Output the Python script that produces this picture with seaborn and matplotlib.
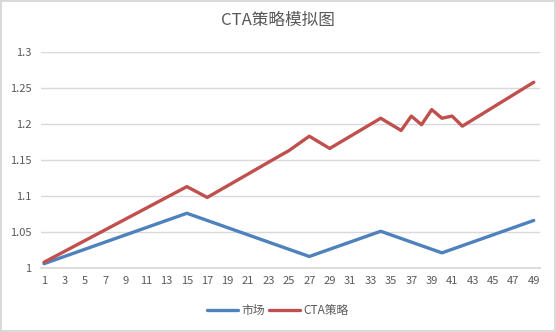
import matplotlib
matplotlib.use("Agg")
import matplotlib.pyplot as plt
import seaborn as sns
import pandas as pd

# Data (breakpoints of the piecewise-straight lines)
market_x = [1, 15, 27, 34, 40, 49]
market_y = [1.006, 1.076, 1.016, 1.051, 1.021, 1.066]

cta_x = [1, 15, 17, 24, 25, 27, 29, 34, 36, 37, 38, 39, 40, 41, 42, 49]
cta_y = [1.008, 1.113, 1.098, 1.155, 1.163, 1.183, 1.166, 1.208, 1.191, 1.211, 1.199, 1.220, 1.208, 1.211, 1.197, 1.258]

x_ticks = list(range(1, 50, 2))
y_ticks = [1, 1.05, 1.1, 1.15, 1.2, 1.25, 1.3]
y_tick_labels = ["1", "1.05", "1.1", "1.15", "1.2", "1.25", "1.3"]
title = "CTA策略模拟图"
series_names = ["市场", "CTA策略"]

sns.set_theme(style="white")
plt.rcParams['font.family'] = ['Noto Sans CJK SC', 'DejaVu Sans']

df = pd.concat([
    pd.DataFrame({"x": market_x, "y": market_y, "s": series_names[0]}),
    pd.DataFrame({"x": cta_x, "y": cta_y, "s": series_names[1]}),
])

fig = plt.figure(figsize=(5.56, 3.32), dpi=100)
fig.patch.set_edgecolor("#D9D9D9")
fig.patch.set_linewidth(1.5)
ax = fig.add_axes([0.0737, 0.1928, 0.8973, 0.6506])

sns.lineplot(data=df, x="x", y="y", hue="s", ax=ax, sort=False,
             palette={series_names[0]: "#4F81BD", series_names[1]: "#C0504D"},
             linewidth=2.4, legend=True)

ax.set_xlim(0.7, 49.6)
ax.set_ylim(1.0, 1.3)
ax.set_xticks(x_ticks)
ax.set_xticklabels([str(t) for t in x_ticks])
ax.set_yticks(y_ticks)
ax.set_yticklabels(y_tick_labels)
ax.tick_params(axis="both", labelsize=8, colors="#595959", length=0)
ax.tick_params(axis="x", pad=6)
ax.tick_params(axis="y", pad=7)
ax.grid(axis="y", color="#D9D9D9", linewidth=1)
ax.set_axisbelow(True)
for side in ["top", "right", "left"]:
    ax.spines[side].set_visible(False)
ax.spines["bottom"].set_color("#D9D9D9")
ax.set_xlabel("")
ax.set_ylabel("")

fig.suptitle(title, x=0.5, y=0.965, fontsize=12, color="#595959")

handles, labels = ax.get_legend_handles_labels()
ax.legend(handles, labels, loc="center", bbox_to_anchor=(0.5, 0.065),
          bbox_transform=fig.transFigure, ncol=2, frameon=False,
          fontsize=8.5, labelcolor="#595959", handlelength=2.6,
          columnspacing=0.3, handletextpad=0.35)

fig.savefig("out.png", dpi=100)
